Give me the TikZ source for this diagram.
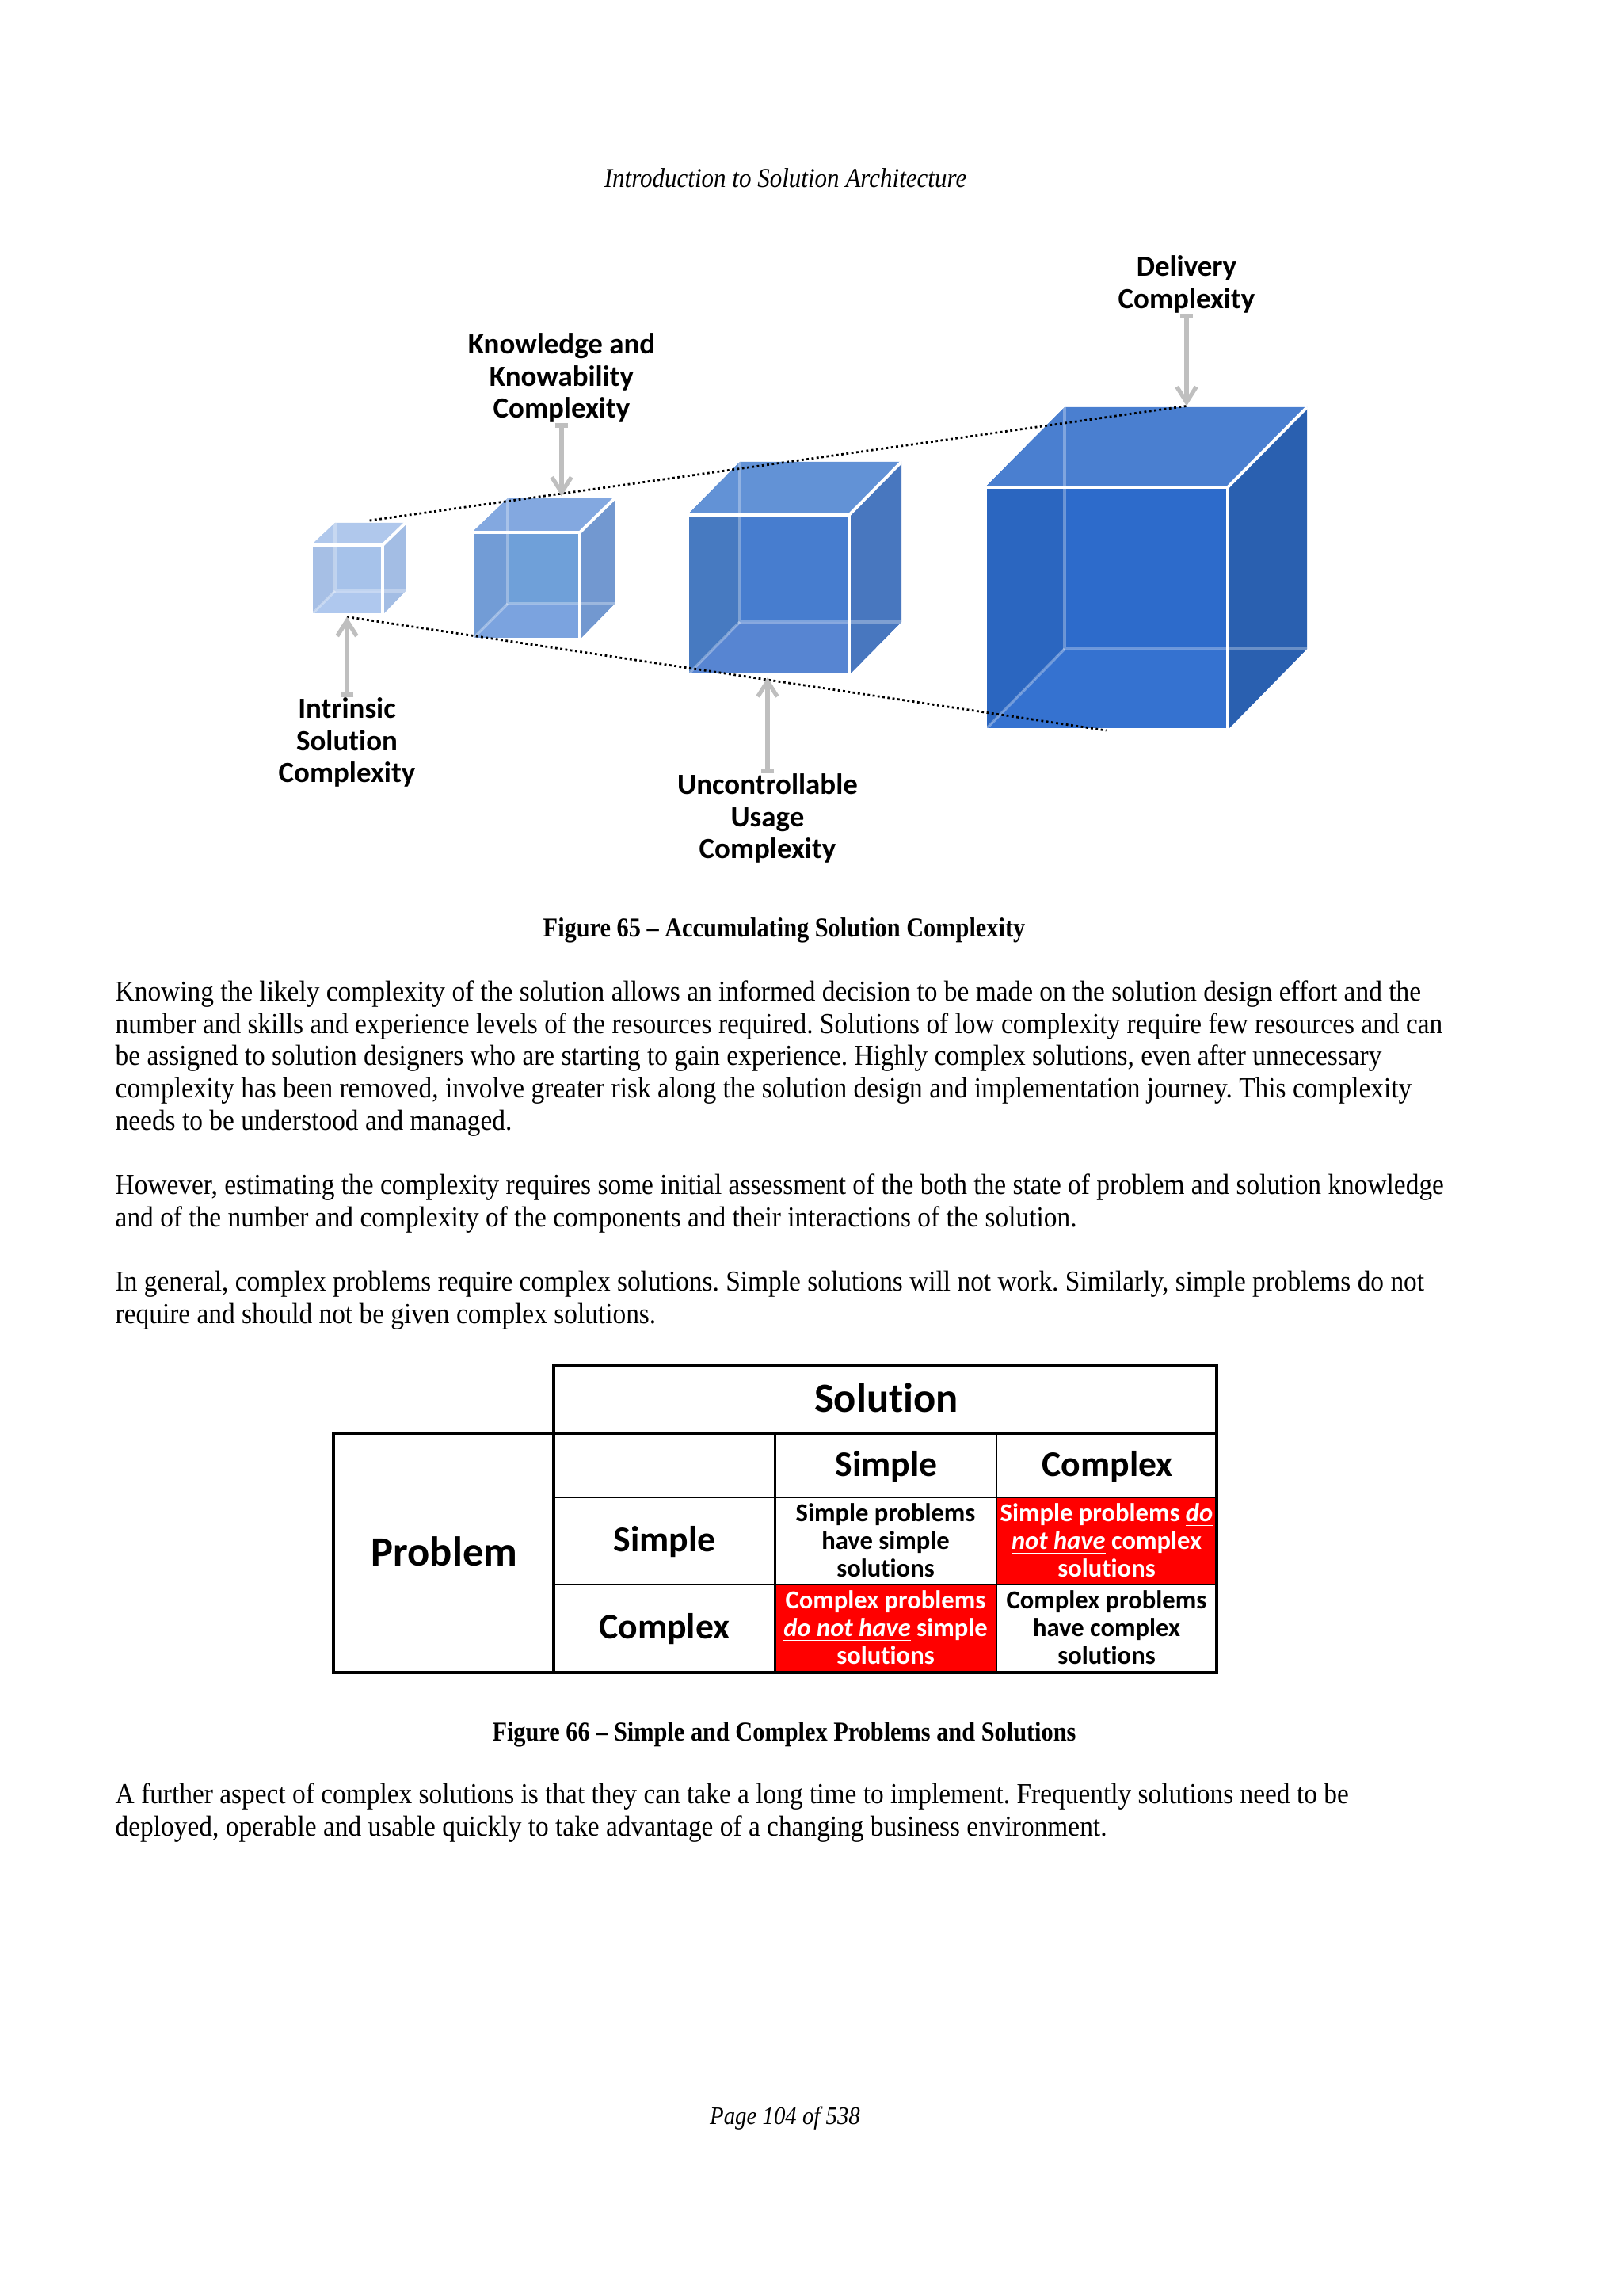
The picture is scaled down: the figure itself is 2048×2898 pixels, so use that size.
\documentclass[tikz,border=0pt]{standalone}
\usepackage{fontspec}
\usepackage{xcolor}
\usetikzlibrary{arrows.meta}
\setmainfont[FakeStretch=0.913]{Liberation Serif}
\newfontfamily\captionfont[FakeStretch=0.88]{Liberation Serif}
\newfontfamily\pagefont[FakeStretch=0.9]{Liberation Serif}
\newfontfamily\calibrifont[Ligatures=NoCommon]{Carlito}
\definecolor{calloutgray}{HTML}{BFBFBF}
\definecolor{cellred}{HTML}{FF0000}
\definecolor{onefront}{HTML}{A6C2EA}
\definecolor{oneleft}{HTML}{A6BFE5}
\definecolor{onetop}{HTML}{B0C8EC}
\definecolor{onebottom}{HTML}{AFC8EE}
\definecolor{oneright}{HTML}{A3BDE4}
\definecolor{twofront}{HTML}{6FA0D9}
\definecolor{twoleft}{HTML}{729CD6}
\definecolor{twotop}{HTML}{83A8E0}
\definecolor{twobottom}{HTML}{7BA3DF}
\definecolor{tworight}{HTML}{7298D0}
\definecolor{threefront}{HTML}{477DCF}
\definecolor{threeleft}{HTML}{477AC1}
\definecolor{threetop}{HTML}{6292D6}
\definecolor{threebottom}{HTML}{5785D2}
\definecolor{threeright}{HTML}{4877BF}
\definecolor{fourfront}{HTML}{2D6BCB}
\definecolor{fourleft}{HTML}{2B66C0}
\definecolor{fourtop}{HTML}{4A7FD0}
\definecolor{fourbottom}{HTML}{3572D0}
\definecolor{fourright}{HTML}{2A60B0}
\begin{document}
\frenchspacing
\begin{tikzpicture}[x=0.01cm,y=-0.01cm,
  every node/.style={inner sep=0pt},
  bodytext/.style={anchor=west,align=left,font=\fontsize{10.4}{11.55}\selectfont},
  pagetext/.style={font=\pagefont\fontsize{9.8}{11.55}\selectfont\itshape},
  pagenumber/.style={font=\pagefont\fontsize{9.1}{11.55}\selectfont\itshape},
  figcaption/.style={font=\captionfont\fontsize{9.8}{11.55}\selectfont\bfseries},
  calloutlabel/.style={align=center,font=\calibrifont\fontsize{10.5}{11.4}\selectfont\bfseries},
  callout/.style={draw=calloutgray,line width=1.8pt,{Bar[width=4.6pt,length=1.2pt]}-{Straight Barb[length=5.5pt,width=7pt,line width=1.5pt]}},
  spanline/.style={densely dotted,line width=0.8pt,black},
  frontedge/.style={white,line width=1.1pt},
  inneredge/.style={white,opacity=0.3,line width=1pt},
  tablethick/.style={black,line width=1.1pt},
  tablethin/.style={black,line width=0.6pt},
  tablehead/.style={font=\calibrifont\fontsize{13}{14}\selectfont\bfseries},
  tabletitle/.style={font=\calibrifont\fontsize{14.95}{16}\selectfont\bfseries},
  tablecell/.style={align=center,font=\calibrifont\fontsize{9.27}{10}\selectfont\bfseries}]
\useasboundingbox (0,0) rectangle (2048,2898);
\fill[white] (0,0) rectangle (2048,2898);
\node[pagetext] (pagehead) at (991.5,225) {Introduction to Solution Architecture};

\fill[onefront] (423,660) rectangle (512,746);
\fill[oneleft] (393,688) -- (423,660) -- (423,746) -- (393,776) -- cycle;
\fill[onetop] (393,688) -- (423,660) -- (512,660) -- (483,688) -- cycle;
\fill[onebottom] (393,776) -- (423,746) -- (512,746) -- (483,776) -- cycle;
\fill[oneright] (483,688) -- (512,660) -- (512,746) -- (483,776) -- cycle;
\draw[inneredge] (423,660) -- (423,746) -- (512,746);
\draw[inneredge] (423,746) -- (393,776);
\draw[frontedge] (393,688) rectangle (483,776);
\draw[frontedge] (483,688) -- (512,660);

\fill[twofront] (641,629) rectangle (776,762);
\fill[twoleft] (596,672) -- (641,629) -- (641,762) -- (596,807) -- cycle;
\fill[twotop] (596,672) -- (641,629) -- (776,629) -- (732,672) -- cycle;
\fill[twobottom] (596,807) -- (641,762) -- (776,762) -- (732,807) -- cycle;
\fill[tworight] (732,672) -- (776,629) -- (776,762) -- (732,807) -- cycle;
\draw[inneredge] (641,629) -- (641,762) -- (776,762);
\draw[inneredge] (641,762) -- (596,807);
\draw[frontedge] (596,672) rectangle (732,807);
\draw[frontedge] (732,672) -- (776,629);

\fill[threefront] (934,583) rectangle (1138,785);
\fill[threeleft] (868,650) -- (934,583) -- (934,785) -- (868,852) -- cycle;
\fill[threetop] (868,650) -- (934,583) -- (1138,583) -- (1072,650) -- cycle;
\fill[threebottom] (868,852) -- (934,785) -- (1138,785) -- (1072,852) -- cycle;
\fill[threeright] (1072,650) -- (1138,583) -- (1138,785) -- (1072,852) -- cycle;
\draw[inneredge] (934,583) -- (934,785) -- (1138,785);
\draw[inneredge] (934,785) -- (868,852);
\draw[frontedge] (868,650) rectangle (1072,852);
\draw[frontedge] (1072,650) -- (1138,583);

\fill[fourfront] (1344,514) rectangle (1650,819);
\fill[fourleft] (1244,615) -- (1344,514) -- (1344,819) -- (1244,921) -- cycle;
\fill[fourtop] (1244,615) -- (1344,514) -- (1650,514) -- (1550,615) -- cycle;
\fill[fourbottom] (1244,921) -- (1344,819) -- (1650,819) -- (1550,921) -- cycle;
\fill[fourright] (1550,615) -- (1650,514) -- (1650,819) -- (1550,921) -- cycle;
\draw[inneredge] (1344,514) -- (1344,819) -- (1650,819);
\draw[inneredge] (1344,819) -- (1244,921);
\draw[frontedge] (1244,615) rectangle (1550,921);
\draw[frontedge] (1550,615) -- (1650,514);

\coordinate (spantopstart) at (466.6,657);
\coordinate (deliverytip) at (1498,512.5);
\coordinate (intrinsictip) at (438,778.6);
\coordinate (spanbottomend) at (1396.6,922);
\coordinate (knowledgetip) at (709,626.5);
\coordinate (usagetip) at (969,855);
\draw[spanline] (spantopstart) -- (deliverytip);
\draw[spanline] (intrinsictip) -- (spanbottomend);

\node[calloutlabel] (intrinsiclabel) at (438,937) {Intrinsic\\Solution\\Complexity};
\node[calloutlabel] (knowledgelabel) at (709,477) {Knowledge and\\Knowability\\Complexity};
\node[calloutlabel] (usagelabel) at (969,1033) {Uncontrollable\\Usage\\Complexity};
\node[calloutlabel] (deliverylabel) at (1498,359) {Delivery\\Complexity};
\draw[callout] (intrinsiclabel.north) -- (intrinsictip);
\draw[callout] (knowledgelabel.south) -- (knowledgetip);
\draw[callout] (usagelabel.north) -- (usagetip);
\draw[callout] (deliverylabel.south) -- (deliverytip);

\node[figcaption] (captionone) at (990,1174) {Figure 65 – Accumulating Solution Complexity};
\node[bodytext] (paraone) at (145,1336) {Knowing the likely complexity of the solution allows an informed decision to be made on the solution design effort and the\\
number and skills and experience levels of the resources required. Solutions of low complexity require few resources and can\\
be assigned to solution designers who are starting to gain experience. Highly complex solutions, even after unnecessary\\
complexity has been removed, involve greater risk along the solution design and implementation journey. This complexity\\
needs to be understood and managed.};
\node[bodytext] (paratwo) at (145,1519) {However, estimating the complexity requires some initial assessment of the both the state of problem and solution knowledge\\
and of the number and complexity of the components and their interactions of the solution.};
\node[bodytext] (parathree) at (145,1641) {In general, complex problems require complex solutions. Simple solutions will not work. Similarly, simple problems do not\\
require and should not be given complex solutions.};

\fill[cellred] (1258,1890) rectangle (1536,2000);
\fill[cellred] (978.5,2000) rectangle (1258,2111);
\draw[tablethin] (978.5,1809) -- (978.5,2111);
\draw[tablethin] (1258,1809) -- (1258,2111);
\draw[tablethin] (699,1890) -- (1536,1890);
\draw[tablethin] (699,2000) -- (1536,2000);
\draw[tablethick] (699,1809) -- (699,1724) -- (1536,1724) -- (1536,2111) -- (421,2111) -- (421,1809) -- cycle;
\draw[tablethick] (699,1809) -- (1536,1809);
\draw[tablethick] (699,1809) -- (699,2111);
\node[tabletitle] (solutionhead) at (1119,1764) {Solution};
\node[tabletitle] (problemhead) at (561,1958) {Problem};
\node[tablehead] (colsimple) at (1119,1851) {Simple};
\node[tablehead] (colcomplex) at (1398,1851) {Complex};
\node[tablehead] (rowsimple) at (839,1946) {Simple};
\node[tablehead] (rowcomplex) at (839,2056) {Complex};
\node[tablecell] (cellsimplesimple) at (1118,1944) {Simple problems\\have simple\\solutions};
\node[tablecell,white] (cellsimplecomplex) at (1397,1944) {Simple problems \underline{\textit{do}}\\\underline{\textit{not have}} complex\\solutions};
\node[tablecell,white] (cellcomplexsimple) at (1118,2054) {Complex problems\\\underline{\textit{do not have}} simple\\solutions};
\node[tablecell] (cellcomplexcomplex) at (1397,2054) {Complex problems\\have complex\\solutions};

\node[figcaption] (captiontwo) at (990,2189) {Figure 66 – Simple and Complex Problems and Solutions};
\node[bodytext] (parafour) at (145,2288) {A further aspect of complex solutions is that they can take a long time to implement. Frequently solutions need to be\\
deployed, operable and usable quickly to take advantage of a changing business environment.};
\node[pagenumber] (pagefoot) at (991,2674) {Page 104 of 538};
\end{tikzpicture}
\end{document}
